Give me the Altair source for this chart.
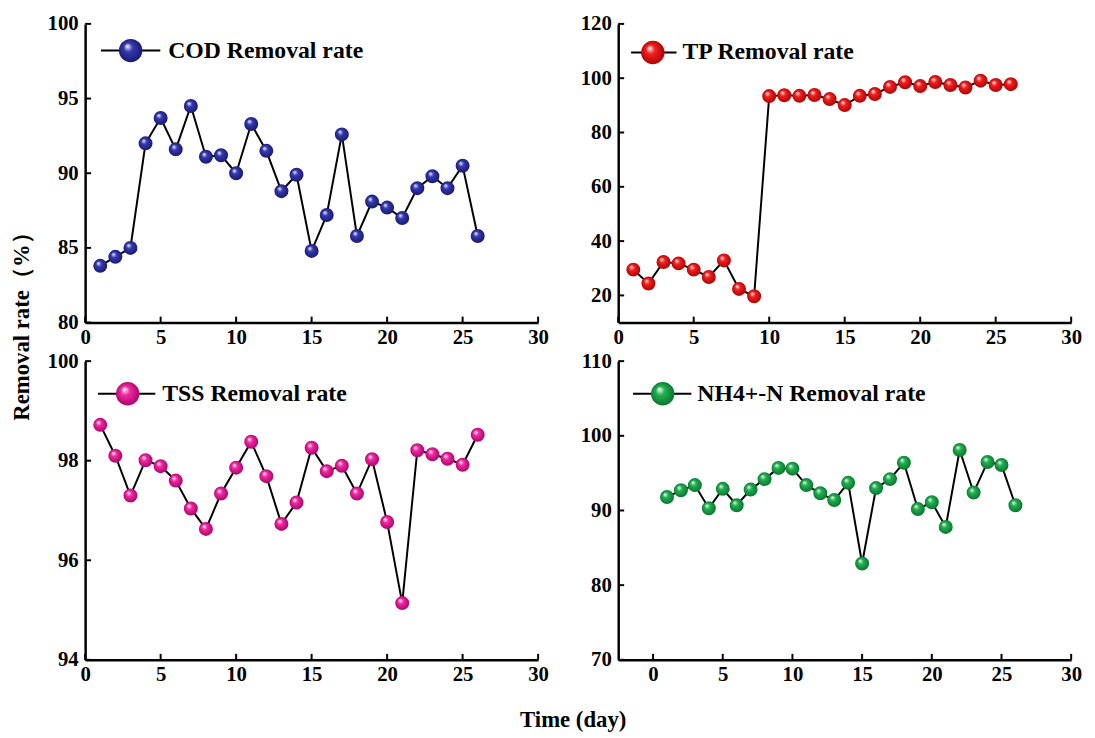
import altair as alt
import pandas as pd

days = list(range(1, 27))
cod = [83.8, 84.4, 85.0, 92.0, 93.7, 91.6, 94.5, 91.1, 91.2, 90.0, 93.3, 91.5, 88.8, 89.9,
       84.8, 87.2, 92.6, 85.8, 88.1, 87.7, 87.0, 89.0, 89.8, 89.0, 90.5, 85.8]
tp = [29.5, 24.4, 32.3, 31.8, 29.5, 26.8, 32.9, 22.4, 19.7, 93.4, 93.7, 93.5, 93.8, 92.3,
      90.1, 93.5, 94.2, 96.8, 98.5, 97.1, 98.6, 97.5, 96.6, 99.1, 97.5, 97.8]
tss = [98.72, 98.10, 97.30, 98.01, 97.89, 97.60, 97.04, 96.63, 97.34, 97.86, 98.38, 97.69, 96.73,
       97.16, 98.26, 97.79, 97.90, 97.34, 98.03, 96.77, 95.14, 98.21, 98.13, 98.04, 97.92, 98.52]
nh4 = [91.8, 92.7, 93.4, 90.3, 92.9, 90.7, 92.8, 94.2, 95.7, 95.6, 93.4, 92.3, 91.4, 93.7,
       82.9, 93.0, 94.2, 96.4, 90.2, 91.1, 87.8, 98.1, 92.4, 96.5, 96.1, 90.7]

labels = ["COD Removal rate", "TP Removal rate", "TSS Removal rate", "NH4+-N Removal rate"]
xticks = [0, 5, 10, 15, 20, 25, 30]
cod_ticks = [80, 85, 90, 95, 100]
tp_ticks = [20, 40, 60, 80, 100, 120]
tss_ticks = [94, 96, 98, 100]
nh4_ticks = [70, 80, 90, 100, 110]

W, H = 458, 302
FONT = "Liberation Serif"


def grad(mid, dark):
    return alt.RadialGradient(
        gradient="radial",
        stops=[alt.GradientStop(color="#ffffff", offset=0),
               alt.GradientStop(color=mid, offset=0.35),
               alt.GradientStop(color=dark, offset=1)],
        x1=0.35, y1=0.3, r1=0, x2=0.5, y2=0.5, r2=0.55)


def panel(label, values, ydom, yticks, xdom, fill, leg, yaxis_title="", xaxis_title=""):
    df = pd.DataFrame({"day": days, "rate": values})
    xs = alt.Scale(domain=xdom, nice=False, zero=False)
    ys = alt.Scale(domain=ydom, nice=False, zero=False)
    xaxis_kw = dict(values=xticks, title=xaxis_title)
    if xaxis_title:
        xaxis_kw.update(titleX=493, titleY=60, titleBaseline="middle")
    yaxis_kw = dict(values=yticks, title=yaxis_title)
    if yaxis_title:
        yaxis_kw.update(titleX=-64, titleY=300, titleBaseline="middle", titleAngle=270)
    xax = alt.Axis(**xaxis_kw)
    yax = alt.Axis(**yaxis_kw)
    x = alt.X("day:Q", scale=xs, axis=xax)
    y = alt.Y("rate:Q", scale=ys, axis=yax)
    base = alt.Chart(df)
    line = base.mark_line(color="black", strokeWidth=2).encode(x=x, y=y)
    pts = base.mark_circle(size=200, opacity=1, fill=fill).encode(x=x, y=y)
    xt = alt.Chart(pd.DataFrame({"t": xticks})).mark_rule(color="black", strokeWidth=2).encode(
        x=alt.X("t:Q", scale=xs, axis=xax), y=alt.value(H), y2=alt.value(H - 6))
    yt = alt.Chart(pd.DataFrame({"v": yticks})).mark_rule(color="black", strokeWidth=2).encode(
        y=alt.Y("v:Q", scale=ys, axis=yax), x=alt.value(0), x2=alt.value(6))
    one = pd.DataFrame({"label": [label]})
    lx1, lx2, px, tx, ly = leg
    lrule = alt.Chart(one).mark_rule(color="black", strokeWidth=2).encode(
        x=alt.value(lx1), x2=alt.value(lx2), y=alt.value(ly))
    lpt = alt.Chart(one).mark_circle(size=560, opacity=1, fill=fill).encode(
        x=alt.value(px), y=alt.value(ly))
    ltxt = alt.Chart(one).mark_text(align="left", baseline="middle", font=FONT, fontSize=24,
                                    fontWeight="bold", color="black").encode(
        x=alt.value(tx), y=alt.value(ly), text="label:N")
    return alt.layer(line, pts, xt, yt, lrule, lpt, ltxt).properties(width=W, height=H)


p1 = panel(labels[0], cod, [80, 100], cod_ticks, [0, 30], grad("#3539b0", "#15176a"),
           (16, 76, 46, 84, 27), yaxis_title="Removal rate（%）")
p2 = panel(labels[1], tp, [10, 120], tp_ticks, [0, 30], grad("#f22020", "#a80000"),
           (13, 59, 35, 65, 29))
p3 = panel(labels[2], tss, [94, 100], tss_ticks, [0, 30], grad("#f02aa0", "#a5006a"),
           (13, 71, 43, 78, 33), xaxis_title="Time (day)")
p4 = panel(labels[3], nh4, [70, 110], nh4_ticks, [-2.5, 30], grad("#22b050", "#07702c"),
           (15, 74, 45, 80, 33))

chart = alt.concat(p1, p2, p3, p4, columns=2, spacing={"row": 39, "column": 81},
                   bounds="flush").properties(
    padding={"left": 3, "top": 1, "right": 5, "bottom": 5}
).configure_view(strokeWidth=0).configure_axis(
    labelFont=FONT, labelFontWeight="bold", labelFontSize=21, labelColor="black",
    titleFont=FONT, titleFontWeight="bold", titleFontSize=23, titleColor="black",
    domainColor="black", domainWidth=2.5, ticks=False, tickSize=0, grid=False,
    labelFlush=False
).configure_axisX(labelPadding=4).configure_axisY(labelPadding=7)

chart.save("out.html", embed_options={"renderer": "svg", "actions": False})
